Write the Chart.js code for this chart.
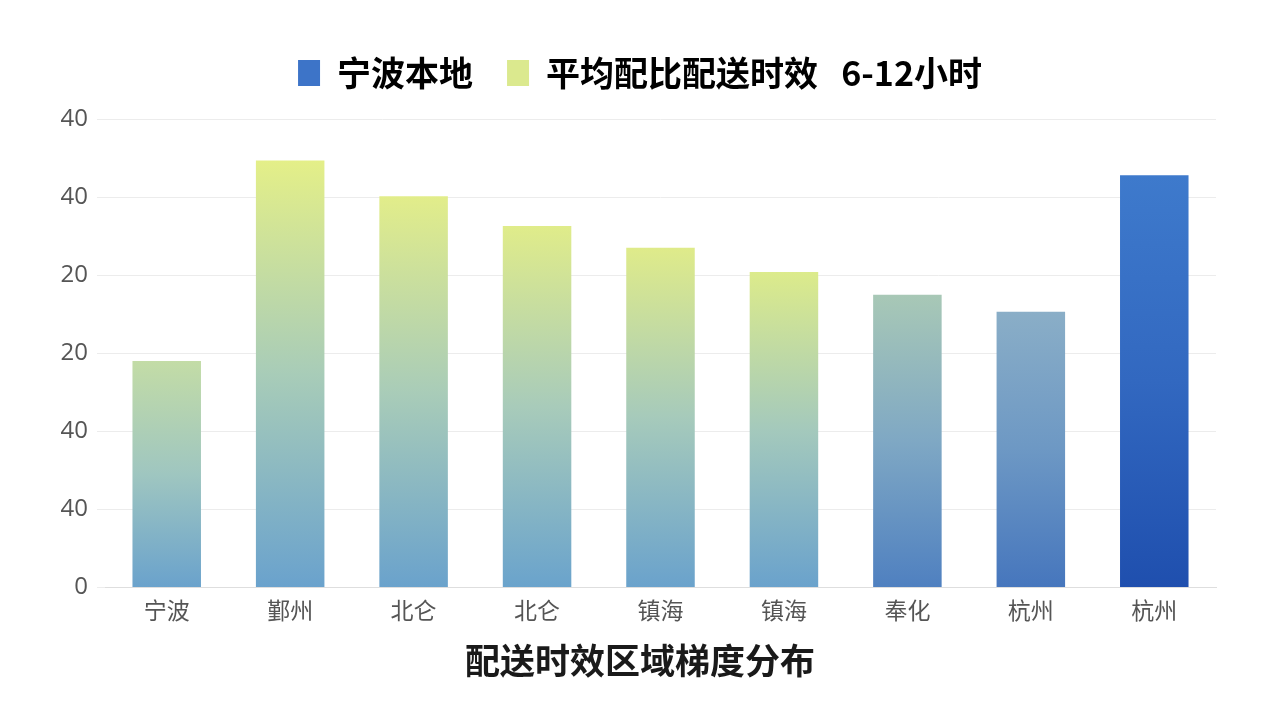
<!DOCTYPE html>
<html>
<head>
<meta charset="utf-8">
<script src="https://cdn.jsdelivr.net/npm/chart.js@4"></script>
<style>
html,body{margin:0;padding:0;background:#fff;}
#wrap{width:1280px;height:720px;}
</style>
</head>
<body>
<div id="wrap"><canvas id="c" width="1280" height="720"></canvas></div>
<script>
const categories = ['宁波','鄞州','北仑','北仑','镇海','镇海','奉化','杭州','杭州'];
const values = [2.90, 5.47, 5.01, 4.63, 4.35, 4.04, 3.75, 3.53, 5.28];
const yTickLabels = ['0','40','40','20','20','40','40'];
const legendLabels = ['宁波本地','平均配比配送时效   6-12小时'];
const legendColors = ['#3d74c8','#dbe98e'];
const chartTitle = '配送时效区域梯度分布';

const topColors = ['#c3dca6','#e4ef88','#e2ed8a','#e0ec8a','#dfeb8a','#dceb8b','#a8c8b6','#8aaec7','#3e7acc'];
const midColors = ['#9fc6c0','#a8ccb8','#a9ccb8','#a8cbba','#a6cabb','#a4c9bc','#7fa8c4','#6d98c4','#3268c0'];
const botColors = ['#6aa2cc','#6aa2cd','#6aa2cc','#6aa3cc','#6aa2cc','#6aa2cc','#4f80c0','#4676bd','#1f4fae'];

const CJK = '"Noto Sans CJK SC", "Noto Sans", sans-serif';
const NUM = '"Open Sans", "Noto Sans", sans-serif';

function barColor(ctx){
  const chart = ctx.chart;
  const i = ctx.dataIndex;
  if (!chart.chartArea || i === undefined || !chart.scales.y) return botColors[i] || '#6aa2cc';
  const ys = chart.scales.y;
  const top = ys.getPixelForValue(values[i]);
  const bot = ys.getPixelForValue(0);
  const g = chart.ctx.createLinearGradient(0, top, 0, bot);
  g.addColorStop(0, topColors[i]);
  g.addColorStop(0.5, midColors[i]);
  g.addColorStop(1, botColors[i]);
  return g;
}

const legendHeightPlugin = {
  id: 'legendHeight',
  beforeInit(chart) {
    const orig = chart.legend.fit;
    chart.legend.fit = function() {
      orig.call(this);
      this.height = 97;
    };
  }
};

new Chart(document.getElementById('c'), {
  type: 'bar',
  data: {
    labels: categories,
    datasets: [{
      label: legendLabels[0],
      data: values,
      backgroundColor: barColor,
      borderWidth: 0,
      barPercentage: 0.555,
      categoryPercentage: 1.0
    }]
  },
  plugins: [legendHeightPlugin],
  options: {
    responsive: false,
    animation: false,
    devicePixelRatio: 1,
    layout: { padding: { top: 22, left: 0, right: 0, bottom: 30 } },
    plugins: {
      tooltip: { enabled: false },
      legend: {
        display: true,
        position: 'top',
        align: 'center',
        labels: {
          boxWidth: 22,
          boxHeight: 26,
          padding: 34,
          color: '#1a1a1a',
          font: { family: CJK, size: 34, weight: 'bold' },
          generateLabels: () => legendLabels.map((t, k) => ({
            text: t,
            fillStyle: legendColors[k],
            strokeStyle: legendColors[k],
            lineWidth: 0,
            hidden: false,
            datasetIndex: 0
          }))
        }
      },
      title: {
        display: true,
        position: 'bottom',
        text: chartTitle,
        color: '#1a1a1a',
        font: { family: CJK, size: 35, weight: 'bold' },
        padding: { top: 15, bottom: 8 }
      }
    },
    scales: {
      x: {
        grid: { display: false },
        border: { display: true, color: '#dedede', width: 1 },
        ticks: {
          color: '#555',
          font: { family: CJK, size: 23 },
          padding: 1
        }
      },
      y: {
        min: 0,
        max: 6,
        position: 'left',
        afterFit: (s) => { s.width = 105; },
        grid: { color: '#ececec', lineWidth: 1, drawTicks: true, tickLength: 8 },
        border: { display: false },
        ticks: {
          stepSize: 1,
          color: '#555',
          padding: 9,
          font: { family: NUM, size: 24 },
          callback: (v, idx) => yTickLabels[idx]
        }
      },
      y2: {
        position: 'right',
        min: 0,
        max: 6,
        afterFit: (s) => { s.width = 64; },
        grid: { display: false, drawOnChartArea: false },
        border: { display: false },
        ticks: { display: false }
      }
    }
  }
});
</script>
</body>
</html>
